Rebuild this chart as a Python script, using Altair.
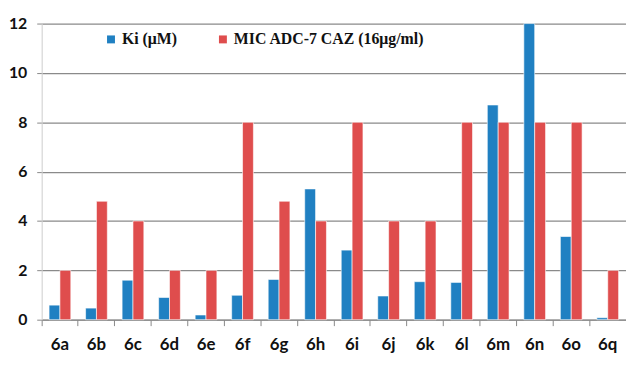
import altair as alt
import pandas as pd

categories = ["6a", "6b", "6c", "6d", "6e", "6f", "6g", "6h", "6i", "6j", "6k", "6l", "6m", "6n", "6o", "6q"]
ki_values = [0.59, 0.47, 1.6, 0.9, 0.19, 0.99, 1.63, 5.3, 2.82, 0.96, 1.54, 1.51, 8.7, 12.0, 3.37, 0.08]
mic_values = [2, 4.8, 4, 2, 2, 8, 4.8, 4, 8, 4, 4, 8, 8, 8, 8, 2]
series_names = ["Ki (μM)", "MIC ADC-7 CAZ (16μg/ml)"]
series_colors = ["#2080C2", "#DF4D4D"]
y_ticks = [0, 2, 4, 6, 8, 10, 12]

rows = []
for c, k, m in zip(categories, ki_values, mic_values):
    rows.append({"compound": c, "series": series_names[0], "value": k})
    rows.append({"compound": c, "series": series_names[1], "value": m})
df = pd.DataFrame(rows)

chart = alt.Chart(df).mark_bar(stroke="white", strokeWidth=0.6).encode(
    x=alt.X("compound:N", sort=categories, title=None,
            scale=alt.Scale(paddingInner=0, paddingOuter=0),
            axis=alt.Axis(labelAngle=0, bandPosition=0, labelFont="Lato", labelFontWeight="bold",
                          labelFontSize=17, labelColor="#111", labelPadding=11,
                          domainColor="#888", tickColor="#888", tickSize=6, grid=False)),
    xOffset=alt.XOffset("series:N", sort=series_names,
                        scale=alt.Scale(paddingInner=0, paddingOuter=0.68)),
    y=alt.Y("value:Q", title=None,
            scale=alt.Scale(domain=[0, 12], nice=False),
            axis=alt.Axis(values=y_ticks, labelFont="Lato", labelFontWeight="bold",
                          labelFontSize=16, labelColor="#111", labelPadding=10,
                          domainColor="#ccc", tickColor="#888", tickSize=5,
                          gridColor="#8a8a8a", gridWidth=1.2)),
    color=alt.Color("series:N", sort=series_names,
                    scale=alt.Scale(domain=series_names, range=series_colors),
                    legend=alt.Legend(title=None, orient="none", legendX=62, legendY=8,
                                      direction="horizontal", symbolType="square",
                                      symbolSize=64, symbolStrokeWidth=0,
                                      labelFont="Liberation Serif", labelFontWeight="bold",
                                      labelFontSize=16, labelColor="#111", labelLimit=400,
                                      columnPadding=38, labelOffset=3)),
).properties(
    width=590, height=299,
    autosize=alt.AutoSizeParams(type="none"),
    padding={"left": 34, "top": 14, "right": 0, "bottom": 40},
).configure_view(stroke=None)

chart.save("out.html", embed_options={"renderer": "svg", "actions": False})
